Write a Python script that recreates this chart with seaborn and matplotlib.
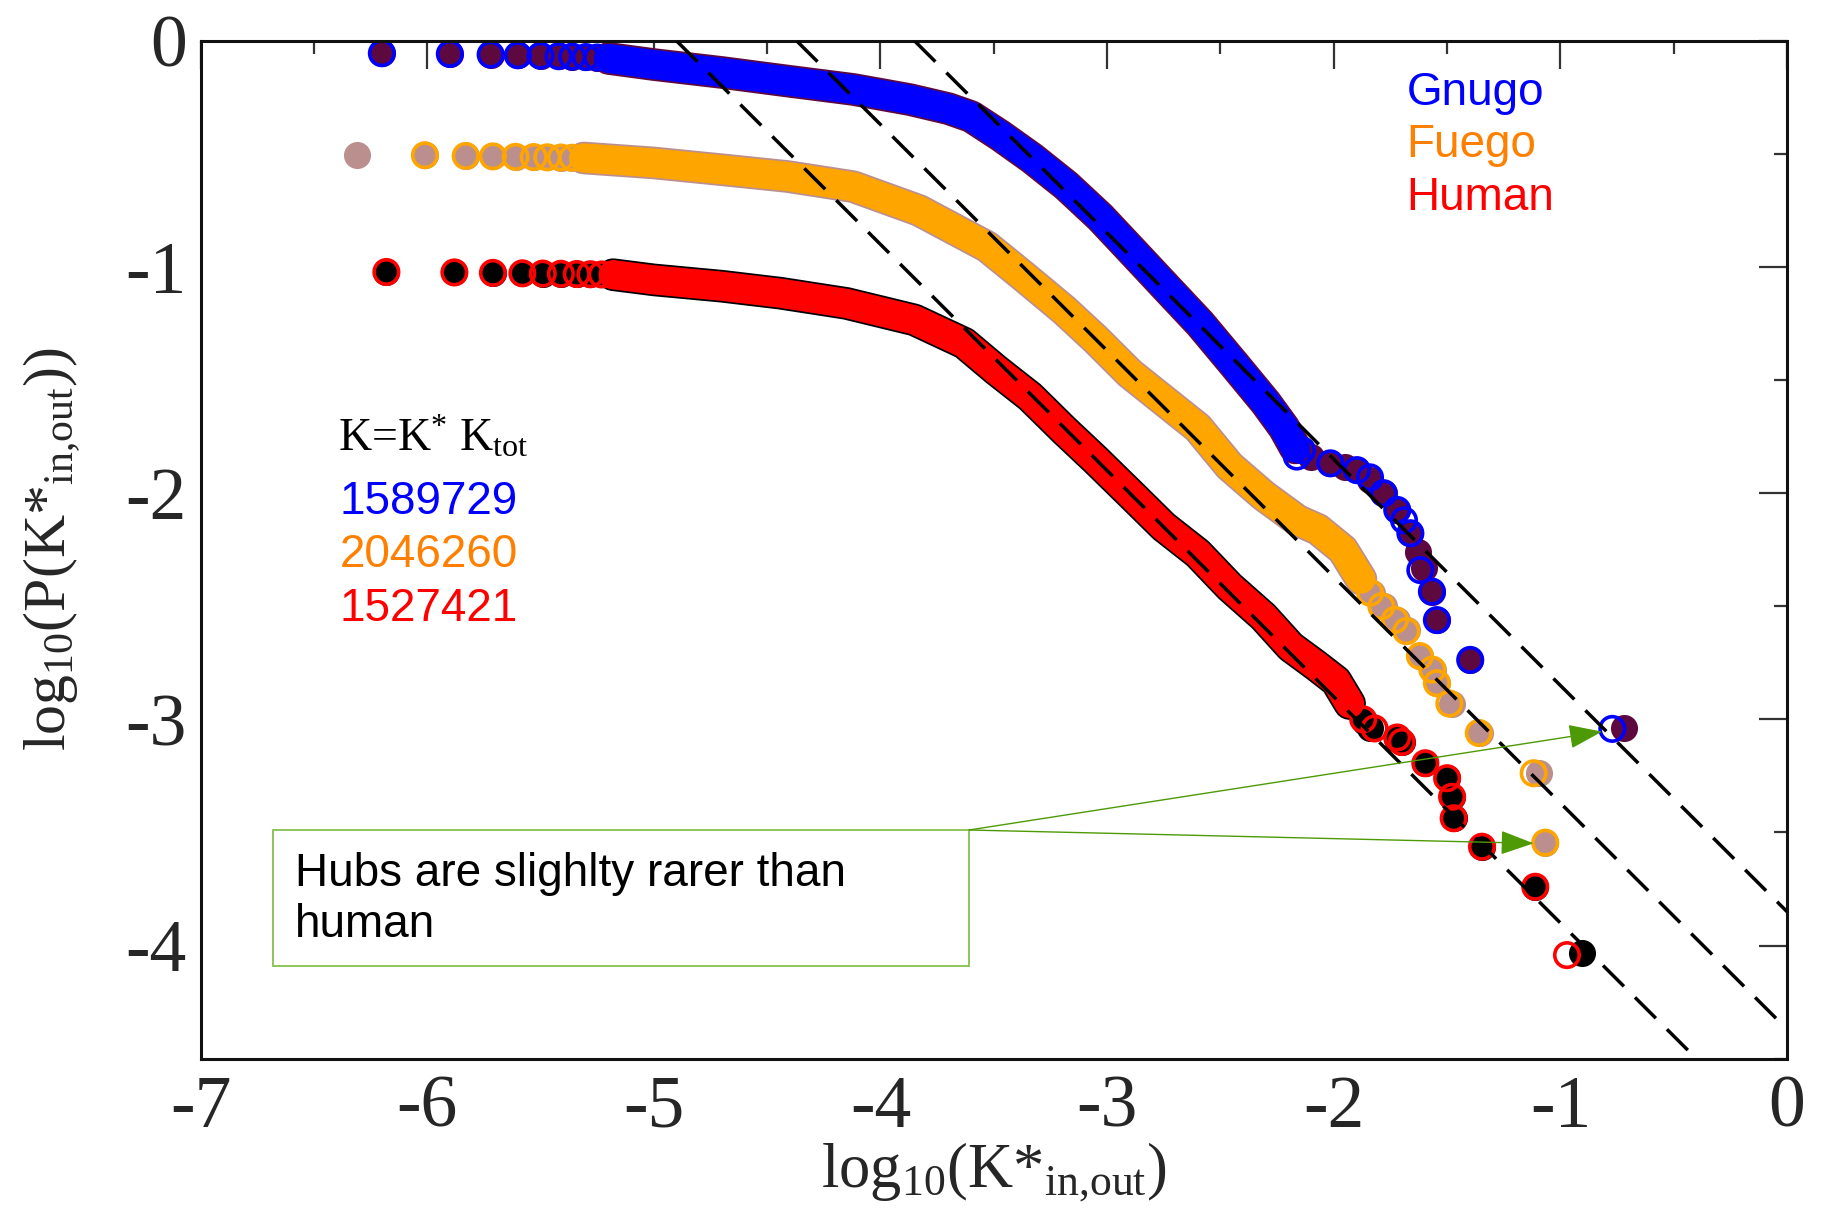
import numpy as np
import pandas as pd
import matplotlib
matplotlib.use("Agg")
import matplotlib.pyplot as plt
import seaborn as sns
from matplotlib.patches import Rectangle

# ---------------- data ----------------
series_names = ["Gnugo", "Fuego", "Human"]
k_tot = ["1589729", "2046260", "1527421"]

# Gnugo
gnugo_head_x = [-6.20, -5.90, -5.72, -5.60, -5.50, -5.42, -5.36, -5.30, -5.25, -5.20]
gnugo_head_y = [-0.055, -0.058, -0.061, -0.064, -0.066, -0.068, -0.070, -0.072, -0.074, -0.077]
gnugo_band_x = [-5.20, -5.00, -4.70, -4.41, -4.12, -3.87, -3.70, -3.60, -3.47, -3.33, -3.18,
                -3.03, -2.88, -2.74, -2.59, -2.44, -2.30, -2.22, -2.17]
gnugo_band_y = [-0.078, -0.105, -0.14, -0.178, -0.215, -0.26, -0.30, -0.335, -0.42, -0.52, -0.64,
                -0.78, -0.94, -1.09, -1.25, -1.43, -1.60, -1.71, -1.80]
gnugo_fill_x = [-2.10, -2.015, -1.95, -1.898, -1.84, -1.78, -1.721, -1.662, -1.63, -1.60,
                -1.567, -1.545, -1.398, -0.72]
gnugo_fill_y = [-1.84, -1.868, -1.885, -1.898, -1.94, -2.00, -2.074, -2.177, -2.26, -2.33,
                -2.435, -2.561, -2.737, -3.037]
gnugo_open_x = [-2.163, -2.14, -2.015, -1.898, -1.84, -1.78, -1.72, -1.69, -1.662, -1.618,
                -1.567, -1.545, -1.398, -0.771]
gnugo_open_y = [-1.838, -1.81, -1.868, -1.898, -1.93, -2.00, -2.074, -2.12, -2.177, -2.34,
                -2.435, -2.561, -2.737, -3.042]

# Fuego
fuego_head_x = [-6.31, -6.01, -5.83, -5.71, -5.61, -5.53, -5.47, -5.41, -5.36, -5.31]
fuego_head_y = [-0.505, -0.506, -0.509, -0.511, -0.513, -0.514, -0.515, -0.516, -0.517, -0.518]
fuego_band_x = [-5.31, -5.00, -4.70, -4.41, -4.12, -3.83, -3.53, -3.37, -3.19, -3.05,
                -2.90, -2.75, -2.60, -2.46, -2.31, -2.16, -2.07, -1.96, -1.88]
fuego_band_y = [-0.518, -0.54, -0.57, -0.60, -0.645, -0.75, -0.91, -1.04, -1.19, -1.32,
                -1.47, -1.59, -1.71, -1.88, -2.01, -2.12, -2.16, -2.25, -2.38]
fuego_fill_x = [-1.83, -1.78, -1.72, -1.677, -1.618, -1.561, -1.545, -1.478, -1.354, -1.094, -1.067]
fuego_fill_y = [-2.44, -2.50, -2.56, -2.605, -2.72, -2.78, -2.84, -2.93, -3.06, -3.237, -3.545]
fuego_open_x = [-1.84, -1.79, -1.73, -1.68, -1.62, -1.565, -1.545, -1.49, -1.36, -1.118, -1.067]
fuego_open_y = [-2.44, -2.50, -2.56, -2.61, -2.72, -2.78, -2.84, -2.93, -3.06, -3.238, -3.545]

# Human
human_head_x = [-6.18, -5.88, -5.71, -5.58, -5.49, -5.41, -5.34, -5.28, -5.23, -5.18]
human_head_y = [-1.022, -1.024, -1.026, -1.028, -1.029, -1.030, -1.031, -1.032, -1.033, -1.034]
human_band_x = [-5.18, -5.00, -4.70, -4.44, -4.15, -3.85, -3.63, -3.49, -3.34, -3.19,
                -3.05, -2.90, -2.75, -2.60, -2.46, -2.31, -2.19, -2.08, -1.99, -1.93]
human_band_y = [-1.034, -1.057, -1.085, -1.116, -1.161, -1.234, -1.337, -1.455, -1.573, -1.721,
                -1.853, -2.000, -2.148, -2.266, -2.413, -2.546, -2.679, -2.76, -2.83, -2.93]
human_fill_x = [-1.86, -1.839, -1.72, -1.699, -1.596, -1.500, -1.478, -1.471, -1.346, -1.111, -0.905]
human_fill_y = [-3.01, -3.039, -3.085, -3.099, -3.194, -3.260, -3.342, -3.437, -3.563, -3.740, -4.034]
human_open_x = [-1.87, -1.82, -1.72, -1.70, -1.596, -1.500, -1.478, -1.471, -1.346, -1.111, -0.971]
human_open_y = [-3.00, -3.04, -3.08, -3.10, -3.194, -3.260, -3.342, -3.437, -3.563, -3.740, -4.042]

# power-law guide lines: y = slope * (x - x0)
fit_x0 = [-4.90, -4.37, -3.85]
fit_slope = -1.0

# annotation
note_text = "Hubs are slighlty rarer than\nhuman"
note_box = [-6.679, -4.089, -3.609, -3.489]   # x0, y0, x1, y1
note_tips = [(-0.816, -3.054), (-1.118, -3.548)]

# ---------------- style ----------------
open_cols = ["#0000ff", "#ffa500", "#ff0000"]
fill_cols = ["#5e0840", "#bc8f8f", "#000000"]
text_cols = ["#0000ff", "#ff8000", "#ff0000"]

sns.set_style("white")
plt.rcParams["font.family"] = ["Liberation Serif", "DejaVu Serif"]
plt.rcParams["mathtext.fontset"] = "custom"
plt.rcParams["mathtext.rm"] = "Liberation Serif"
plt.rcParams["mathtext.it"] = "Liberation Serif:italic"
plt.rcParams["axes.unicode_minus"] = False

fig = plt.figure(figsize=(18.28, 12.18), dpi=100)
ax = fig.add_axes([0.1097, 0.1308, 0.8679, 0.8357])

heads = [(gnugo_head_x, gnugo_head_y), (fuego_head_x, fuego_head_y), (human_head_x, human_head_y)]
bands = [(gnugo_band_x, gnugo_band_y), (fuego_band_x, fuego_band_y), (human_band_x, human_band_y)]
fills = [(gnugo_fill_x, gnugo_fill_y), (fuego_fill_x, fuego_fill_y), (human_fill_x, human_fill_y)]
opens = [(gnugo_open_x, gnugo_open_y), (fuego_open_x, fuego_open_y), (human_open_x, human_open_y)]
open_head_start = [0, 1, 0]

S_FILL = 380
S_OPEN = 310
LW_OPEN = 2.6

for i in range(3):
    bx, by = bands[i]
    band = pd.DataFrame({"x": bx, "y": by})
    sns.lineplot(data=band, x="x", y="y", sort=False, estimator=None, ax=ax,
                 color=fill_cols[i], linewidth=23.5, solid_capstyle="round",
                 solid_joinstyle="round", zorder=2)
    hx, hy = heads[i]
    sns.scatterplot(x=hx, y=hy, s=S_FILL, color=fill_cols[i], linewidth=0, ax=ax, zorder=2.1)
    fx, fy = fills[i]
    sns.scatterplot(x=fx, y=fy, s=S_FILL, color=fill_cols[i], linewidth=0, ax=ax, zorder=2.1)
    sns.lineplot(data=band, x="x", y="y", sort=False, estimator=None, ax=ax,
                 color=open_cols[i], linewidth=21.0, solid_capstyle="round",
                 solid_joinstyle="round", zorder=2.2)
    st = open_head_start[i]
    sns.scatterplot(x=hx[st:], y=hy[st:], s=S_OPEN, facecolor="none",
                    edgecolor=open_cols[i], linewidth=LW_OPEN, ax=ax, zorder=2.3)
    ox, oy = opens[i]
    sns.scatterplot(x=ox, y=oy, s=S_OPEN, facecolor="none",
                    edgecolor=open_cols[i], linewidth=LW_OPEN, ax=ax, zorder=2.3)

for x0 in fit_x0:
    ax.axline((x0, 0.0), slope=fit_slope, color="black", linewidth=2.5,
              dashes=(8.5, 4.5), zorder=4)

# axes
ax.set_xlim(-7, 0)
ax.set_ylim(-4.5, 0)
ax.set_xticks(np.arange(-7, 1, 1))
ax.set_xticks(np.arange(-6.5, 0, 1), minor=True)
ax.set_yticks(np.arange(-4, 1, 1))
ax.set_yticks([-4.5, -3.5, -2.5, -1.5, -0.5], minor=True)
ax.tick_params(which="both", direction="in", top=True, right=True,
               color="#333333", width=1.6)
ax.tick_params(which="major", length=20, labelsize=53)
ax.tick_params(which="minor", length=9.5)
ax.tick_params(axis="x", which="major", pad=12)
ax.tick_params(axis="y", which="major", pad=10)
for sp in ax.spines.values():
    sp.set_linewidth(2.2)
    sp.set_color("#111111")
    sp.set_visible(True)

ax.set_xlabel(r"log$_{10}$(K*$_{\rm in{,}out}$)", fontsize=45)
ax.set_ylabel(r"log$_{10}$(P(K*$_{\rm in{,}out}$))", fontsize=43)
ax.xaxis.set_label_coords(0.5, -0.080)
ax.yaxis.set_label_coords(-0.075, 0.5)

# legend-like texts
sans = ["Liberation Sans", "DejaVu Sans"]
legend_base_y = [-0.284, -0.512, -0.748]
for name, col, yb in zip(series_names, text_cols, legend_base_y):
    ax.text(-1.68, yb, name, color=col, fontsize=33, family=sans, va="baseline", zorder=6)

ax.text(-6.392, -1.812, r"K=K$^{*}$ K$_{\rm tot}$", fontsize=33, color="black",
        va="baseline", zorder=6)
ktot_base_y = [-2.093, -2.325, -2.564]
for val, col, yb in zip(k_tot, text_cols, ktot_base_y):
    ax.text(-6.386, yb, val, color=col, fontsize=33, family=sans, va="baseline", zorder=6)

# annotation box + arrows
bx0, by0, bx1, by1 = note_box
ax.add_patch(Rectangle((bx0, by0), bx1 - bx0, by1 - by0, facecolor="white",
                       edgecolor="#86c04e", linewidth=1.3, zorder=6))
ax.text(-6.583, -3.962, note_text, fontsize=33, family=sans, color="black",
        va="baseline", linespacing=1.2, zorder=7)
for tip in note_tips:
    ax.annotate("", xy=tip, xytext=(bx1, by1),
                arrowprops=dict(arrowstyle="-|>,head_length=1.05,head_width=0.38",
                                color="#4e9a06", lw=1.0, shrinkA=0, shrinkB=0,
                                mutation_scale=20),
                zorder=7)

fig.savefig("out.png", dpi=100, facecolor="white")
